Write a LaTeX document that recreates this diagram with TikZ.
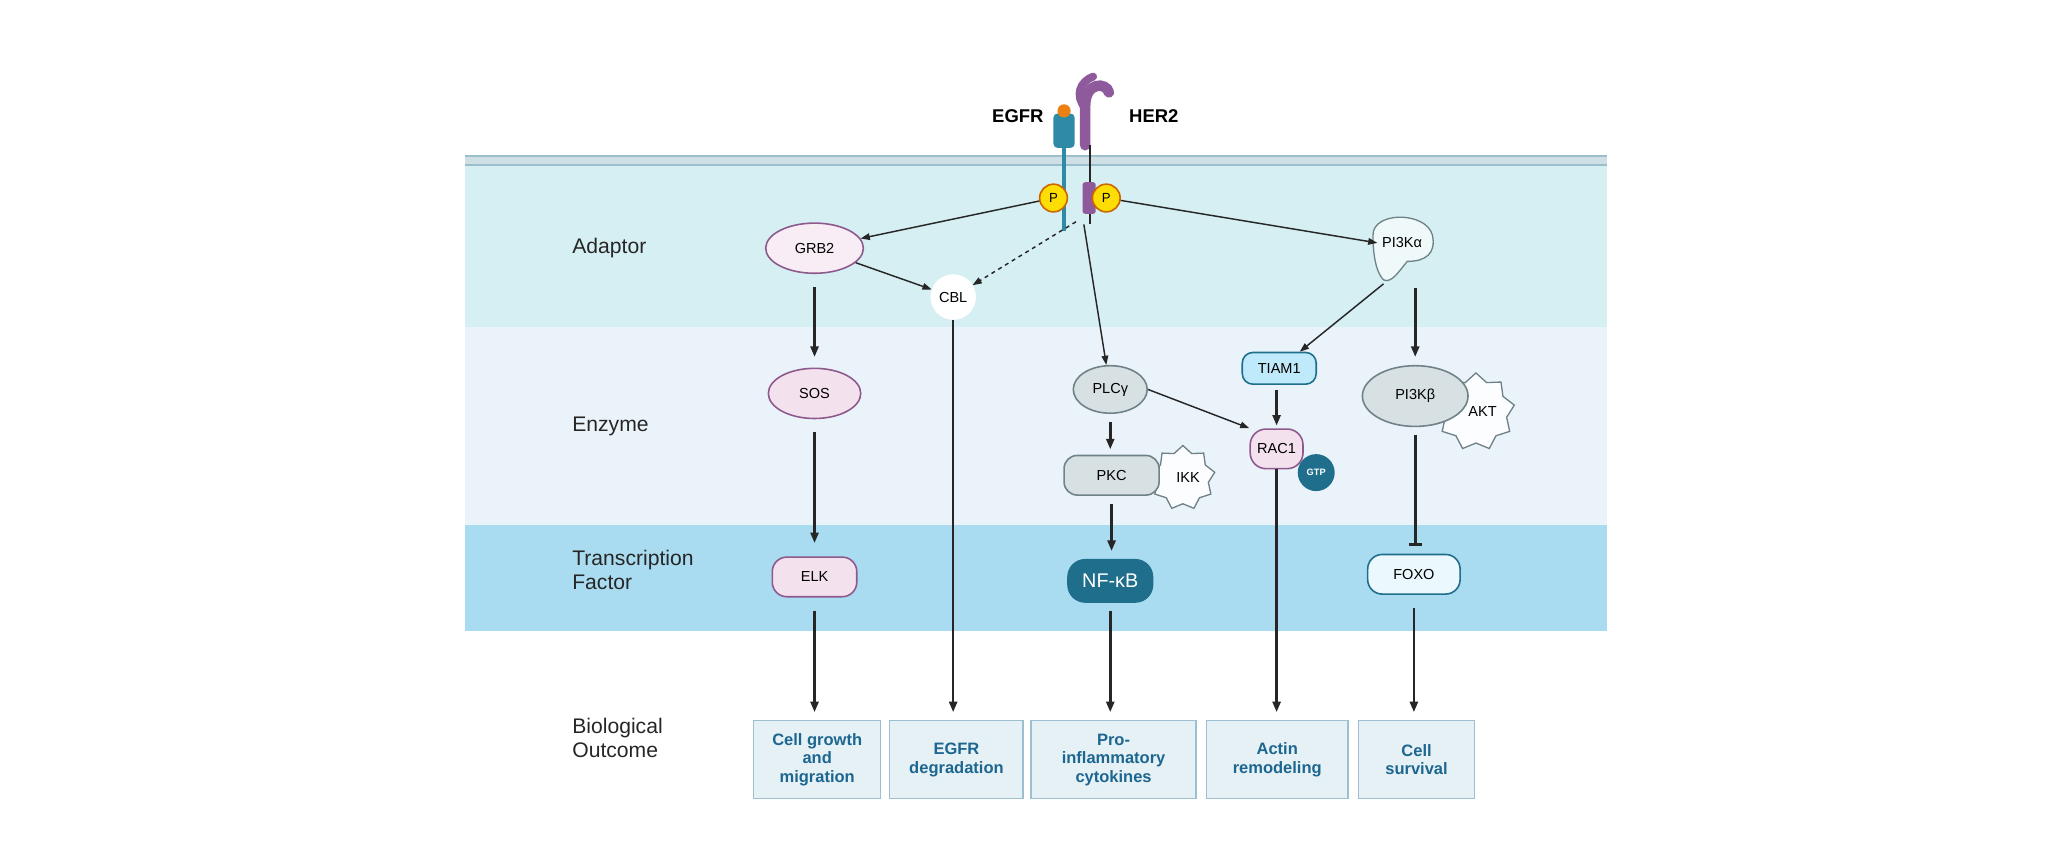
\documentclass[tikz,border=0pt]{standalone}
\usepackage{fontspec}
\setmainfont{Liberation Sans}
\usetikzlibrary{shapes.geometric,arrows.meta}
\definecolor{bandA}{HTML}{D6EFF3}
\definecolor{bandB}{HTML}{EBF3FA}
\definecolor{bandC}{HTML}{A9DCF0}
\definecolor{memb}{HTML}{9DBFCB}
\definecolor{tealD}{HTML}{1F6E8C}
\definecolor{egfrC}{HTML}{2E8AA6}
\definecolor{herC}{HTML}{8E5A9B}
\definecolor{pinkF}{HTML}{F4E1EE}
\definecolor{pinkD}{HTML}{8E5A8E}
\definecolor{greyF}{HTML}{D7E0E3}
\definecolor{greyD}{HTML}{6E8288}
\definecolor{outTx}{HTML}{1C6690}
\definecolor{boxF}{HTML}{E6F1F6}
\definecolor{boxD}{HTML}{9CC0D2}
\tikzset{
  lvl/.style={font=\fontsize{16}{18}\selectfont, anchor=west, align=left, text=black!85},
  prot/.style={ellipse, draw=#1, line width=1.2pt, font=\fontsize{11}{12}\selectfont, inner sep=1pt},
  pill/.style={rounded corners=8pt, draw=#1, line width=1.2pt, font=\fontsize{11}{12}\selectfont, minimum height=24pt},
  burst/.style={star, star points=9, star point ratio=1.25, draw=greyD, fill=white!90!bandA, line width=1pt, font=\fontsize{11}{12}\selectfont, inner sep=1pt},
  outbox/.style={draw=boxD, fill=boxF, line width=1pt, minimum height=59pt, align=center, text=outTx, font=\bfseries\fontsize{12.5}{14}\selectfont},
  fw/.style={-{Triangle[length=8pt,width=6pt]}, line width=2pt, black!85},
  thin/.style={-{Triangle[length=7pt,width=5pt]}, line width=1.1pt, black!85},
  pdot/.style={circle, fill=yellow!80!orange, draw=orange!80!black, line width=1.2pt, inner sep=0pt, minimum size=21pt, font=\fontsize{10}{11}\selectfont}
}
\begin{document}
\begin{tikzpicture}[x=1pt,y=-1pt]
\useasboundingbox (0,0) rectangle (1568,656);
% Bands
\fill[bandA] (352,125) rectangle (1217,248);
\fill[bandB] (352,248) rectangle (1217,398);
\fill[bandC] (352,398) rectangle (1217,478);
\fill[memb!50] (352,118) rectangle (1217,125);
\draw[memb, line width=1.5pt] (352,118) -- (1217,118);
\draw[memb, line width=1.5pt] (352,125) -- (1217,125);

% Receptors
\draw[egfrC, line width=2.5pt] (806,110) -- (806,175);
\fill[egfrC, rounded corners=3pt] (798,86) rectangle (814,112);
\fill[orange!70!brown] (806,84) circle (5pt);
\draw[herC, line width=8pt, line cap=round] (822,110) -- (822,80) .. controls (822,62) and (838,62) .. (840,70);
\draw[herC, line width=6pt, line cap=round] (822,82) .. controls (814,72) and (818,62) .. (828,58);
\draw[black!85, line width=1.5pt] (826,110) -- (826,170);
\fill[herC, rounded corners=2pt] (820,138) rectangle (830,162);
\node[font=\bfseries\fontsize{14}{16}\selectfont] (egfr) at (771,88) {EGFR};
\node[font=\bfseries\fontsize{14}{16}\selectfont] (her2) at (874,88) {HER2};
\node[pdot] (p1) at (798,150) {P};
\node[pdot] (p2) at (838,150) {P};
\coordinate (pa) at (815,168);
\coordinate (pb) at (821,170);

% Level labels
\node[lvl] (lad) at (430,188) {Adaptor};
\node[lvl] (len) at (430,323) {Enzyme};
\node[lvl] (ltf) at (430,432) {Transcription\\Factor};
\node[lvl] (lbo) at (430,559) {Biological\\Outcome};

% Proteins
\node[prot=pinkD, fill=pinkF!60!white, minimum width=74pt, minimum height=38pt] (grb2) at (617,188) {GRB2};
\node[circle, draw=white, fill=white, font=\fontsize{11}{12}\selectfont, minimum size=34pt, inner sep=0pt] (cbl) at (722,225) {CBL};
\draw[greyD, line width=1pt, fill=bandA!40!white] (1040,178) .. controls (1040,160) and (1080,160) .. (1085,178)
  .. controls (1088,192) and (1080,198) .. (1066,198) .. controls (1060,205) and (1054,215) .. (1048,212)
  .. controls (1042,206) and (1040,192) .. (1040,178) -- cycle;
\node[font=\fontsize{11}{12}\selectfont] (pi3ka) at (1062,184) {PI3Kα};
\coordinate (pi3kaL) at (1048,215);
\coordinate (pi3kaB) at (1072,218);
\node[prot=pinkD, fill=pinkF, minimum width=70pt, minimum height=38pt] (sos) at (617,298) {SOS};
\node[prot=greyD, fill=greyF, minimum width=56pt, minimum height=36pt] (plcg) at (841,295) {PLCγ};
\node[pill=tealD, fill=cyan!25!white, minimum width=56pt] (tiam) at (969,279) {TIAM1};
\node[burst, minimum size=56pt] (akt) at (1118,312) {\hspace{10pt}AKT};
\node[prot=greyD, fill=greyF, minimum width=80pt, minimum height=46pt] (pi3kb) at (1072,300) {PI3Kβ};
\node[burst, minimum size=46pt] (ikk) at (896,362) {\hspace{8pt}IKK};
\node[pill=greyD, fill=greyF, minimum width=72pt, minimum height=30pt, rounded corners=10pt] (pkc) at (842,360) {PKC};
\node[pill=pinkD, fill=pinkF, minimum width=40pt, minimum height=30pt, rounded corners=12pt] (rac1) at (967,340) {RAC1};
\node[circle, fill=tealD, text=white, font=\bfseries\fontsize{7}{8}\selectfont, minimum size=28pt, inner sep=0pt] (gtp) at (997,358) {GTP};
\node[pill=pinkD, fill=pinkF, minimum width=64pt, minimum height=30pt, rounded corners=11pt] (elk) at (617,437) {ELK};
\node[pill=tealD, fill=tealD, text=white, minimum width=64pt, minimum height=32pt, rounded corners=13pt, font=\fontsize{15}{16}\selectfont] (nfkb) at (841,440) {NF-κB};
\node[pill=tealD, fill=cyan!8!white, minimum width=70pt, minimum height=30pt, rounded corners=11pt] (foxo) at (1071,435) {FOXO};

% Outcomes
\node[outbox, minimum width=96pt] (o1) at (619,575.5) {Cell growth\\and\\migration};
\node[outbox, minimum width=101pt] (o2) at (724.5,575.5) {EGFR\\degradation};
\node[outbox, minimum width=125pt] (o3) at (843.5,575.5) {Pro-\\inflammatory\\cytokines};
\node[outbox, minimum width=107pt] (o4) at (967.5,575.5) {Actin\\remodeling};
\node[outbox, minimum width=88pt] (o5) at (1073,575.5) {Cell\\survival};

% Connectors
\draw[thin] (p1) -- (grb2);
\draw[thin, dashed] (pa) -- (cbl);
\draw[thin] (grb2) -- (cbl);
\draw[thin] (pb) -- (plcg);
\draw[thin] (p2) -- (pi3ka.west);
\draw[thin] (pi3kaL) -- (tiam);
\draw[fw] ([yshift=-10pt]grb2.south) -- ([yshift=8pt]sos.north);
\draw[fw] ([yshift=-10pt]sos.south) -- ([yshift=10pt]elk.north);
\draw[fw] ([yshift=-10pt]elk.south) -- ([yshift=6pt]elk.south |- o1.north);
\draw[fw] (cbl.south) -- ([yshift=6pt]cbl.south |- o2.north);
\draw[fw] ([yshift=-6pt]plcg.south) -- ([yshift=4pt]plcg.south |- pkc.north);
\draw[thin] (plcg.east) -- (rac1.north west);
\draw[fw] ([yshift=-6pt]pkc.south) -- ([yshift=6pt]pkc.south |- nfkb.north);
\draw[fw] ([yshift=-6pt]nfkb.south) -- ([yshift=6pt]nfkb.south |- o3.north);
\draw[fw] ([yshift=-4pt]rac1.north |- tiam.south) -- ([yshift=2pt]rac1.north);
\draw[fw] (rac1.south) -- ([yshift=6pt]rac1.south |- o4.north);
\draw[fw] (pi3kaB) -- ([yshift=6pt]pi3kaB |- pi3kb.north);
\draw[-{Bar[width=10pt]}, line width=2pt, black!85] ([yshift=-6pt]pi3kb.south) -- ([yshift=6pt]pi3kb.south |- foxo.north);
\draw[fw] ([yshift=-10pt]foxo.south) -- ([yshift=6pt]foxo.south |- o5.north);
\end{tikzpicture}
\end{document}
